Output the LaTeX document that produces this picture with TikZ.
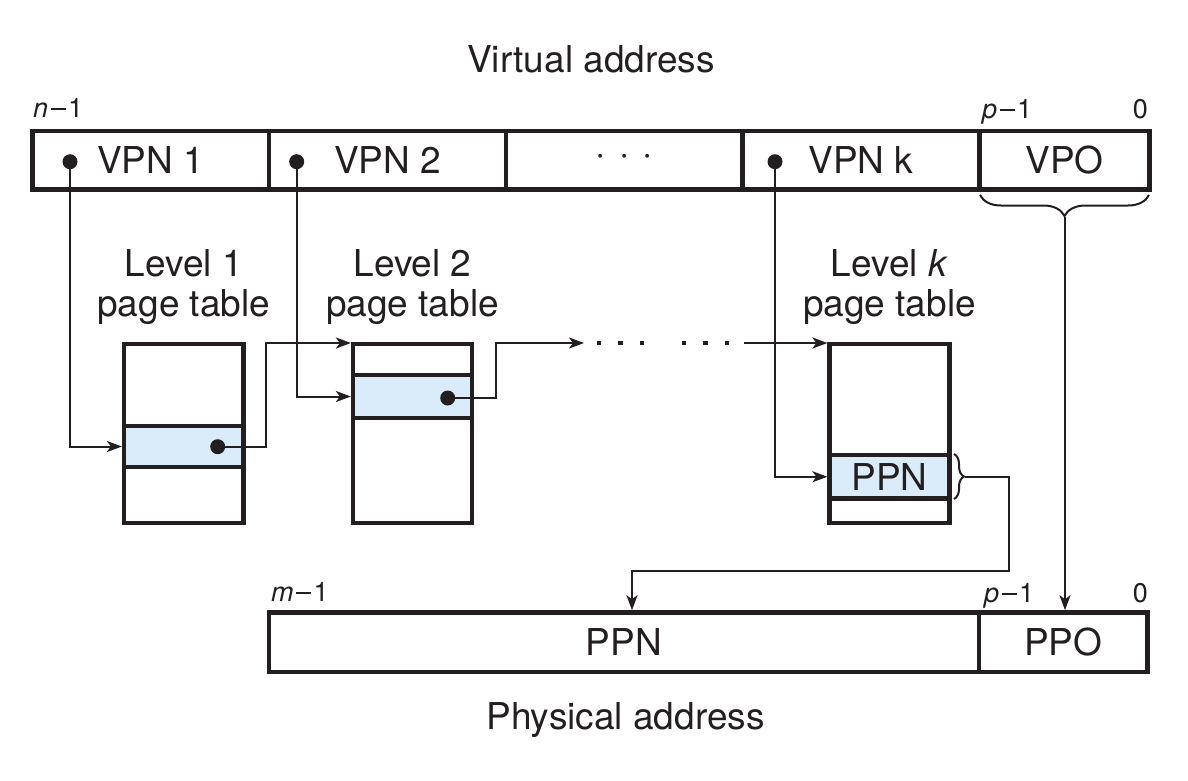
\documentclass[tikz,border=0pt]{standalone}
\usepackage{fontspec}
\setmainfont{TeX Gyre Heros}
\usetikzlibrary{arrows.meta,decorations.pathreplacing,calc}
\definecolor{ink}{RGB}{35,31,32}
\definecolor{rowblue}{RGB}{218,235,249}
% bit position label such as n-1, with a long minus bar
\newcommand{\bitpos}[1]{\textit{#1}\kern2.5pt\rule[7.5pt]{15pt}{1.8pt}\kern2.5pt1}
\begin{document}
\begin{tikzpicture}[x=1pt,y=-1pt,
  big/.style={font=\fontsize{37}{31}\selectfont, text=ink, inner sep=0pt},
  small/.style={font=\fontsize{27}{29}\selectfont, text=ink, inner sep=0pt},
  cell/.style={draw=ink, line width=4.6pt, minimum height=58.5pt, inner sep=0pt, big},
  tbl/.style={draw=ink, line width=4.2pt, minimum width=119.5pt, minimum height=179pt, inner sep=0pt},
  entry/.style={tbl, fill=rowblue, minimum height=42pt, big},
  bullet/.style={circle, fill=ink, minimum size=15pt, inner sep=0pt},
  link/.style={draw=ink, line width=2pt, -{Stealth[length=15pt,width=11pt,inset=4pt]}},
  curly/.style={draw=ink, line width=2pt, decorate, decoration={brace, amplitude=#1}},
]
\useasboundingbox (0,0) rectangle (1188,780);

% titles
\node[big, anchor=base] (va) at (591,72) {Virtual address};
\node[big, anchor=base] (pa) at (625.5,729) {Physical address};

% virtual address register
\node[cell, minimum width=236.5pt] (vpn1) at (150.75,160.25) {VPN 1};
\node[cell, minimum width=237pt]   (vpn2) at (387.5,160.25) {VPN 2};
\node[cell, minimum width=236.5pt] (vgap) at (624.25,160.25) {·\hspace{13pt}·\hspace{13pt}·};
\node[cell, minimum width=237pt]   (vpnk) at (861,160.25) {VPN k};
\node[cell, minimum width=170pt]   (vpo)  at (1064.5,160.25) {VPO};

\node[small, anchor=base west] (vhi) at (33,117) {\bitpos{n}};
\node[small, anchor=base west] (vpl) at (982,118) {\bitpos{p}};
\node[small, anchor=base east] (vlo) at (1148,118) {0};

% physical address register
\node[cell, minimum width=710pt, minimum height=59.5pt]   (ppn) at (624,642.25) {PPN};
\node[cell, minimum width=168.5pt, minimum height=59.5pt] (ppo) at (1063.25,642.25) {PPO};

\node[small, anchor=base west] (phi) at (271,601) {\bitpos{m}};
\node[small, anchor=base west] (ppl) at (984,602) {\bitpos{p}};
\node[small, anchor=base east] (plo) at (1148,602) {0};

% page tables
\node[big, anchor=base] (l1a) at (183.75,276) {Level 1};
\node[big, anchor=base] (l1b) at (183.75,316) {page table};
\node[big, anchor=base] (l2a) at (412.5,276) {Level 2};
\node[big, anchor=base] (l2b) at (412.5,316) {page table};
\node[big, anchor=base] (lka) at (889.5,276) {Level \textit{k}};
\node[big, anchor=base] (lkb) at (889.5,316) {page table};

\node[tbl] (t1) at (183.75,433.5) {};
\node[entry, minimum height=41pt] (r1) at (183.75,446.5) {};
\node[tbl, minimum width=119pt] (t2) at (412.5,433.5) {};
\node[entry, minimum width=119pt, minimum height=43pt] (r2) at (412.5,396.5) {};
\node[tbl, minimum width=120pt] (tk) at (889.5,433.5) {};
\node[entry, minimum width=120pt, minimum height=43.5pt] (rk) at (889.5,476.75) {PPN};

% pointer dots
\node[bullet] (b1) at (70,161.7) {};
\node[bullet] (b2) at (296.7,161.7) {};
\node[bullet] (bk) at (775,161.7) {};
\node[bullet] (e1) at (217.7,446.7) {};
\node[bullet] (e2) at (447.7,398) {};

% elided levels
\coordinate (dl) at (584,343);
\coordinate (dr) at (744,343);
\foreach \x in {599,620.5,642,684,705.5,727}
  \fill[ink] (\x-2.2,340.8) rectangle (\x+2.2,345.2);

% connectors
\draw[link] (b1.center) |- (r1.west);
\draw[link] (e1.center) -- ++(48.5,0) |- (t2.west |- dl);
\draw[link] (b2.center) |- (r2.west);
\draw[link] (e2.center) -- ++(48.3,0) |- (dl);
\draw[link] (dr) -- (dr -| tk.west);
\draw[link] (bk.center) |- (rk.west);

% PPN entry to physical page number
\draw[curly=10pt] (954,454) -- (954,499);
\coordinate (pk) at (965,476.5);
\draw[link] (pk) -- ++(44,0) |- ($(ppn.north)+(8,-39.5)$) -- ($(ppn.north)+(8,0)$);

% page offset copied through
\draw[curly=21pt] (1149,195) -- (980,195);
\coordinate (vt) at (1065,216.5);
\draw[link] (vt) -- (vt |- ppo.north);
\end{tikzpicture}
\end{document}
